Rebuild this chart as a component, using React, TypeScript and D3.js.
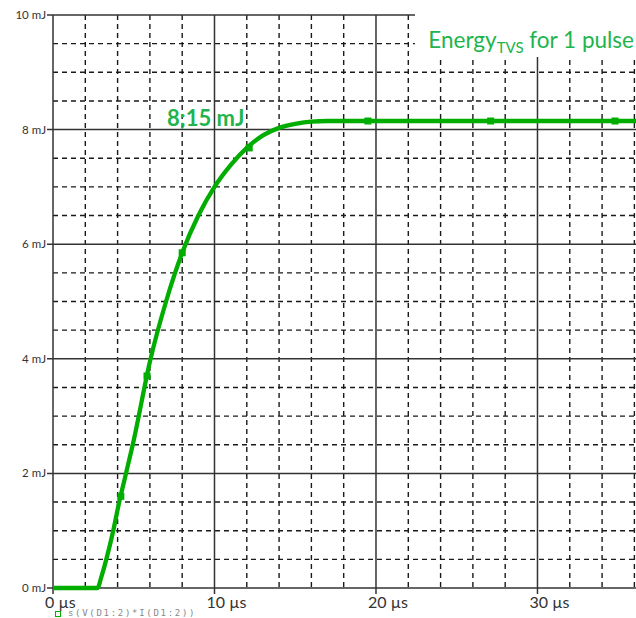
import React from "react";
import * as d3 from "d3";

const timeUs = [0, 2.75, 3.0, 3.3, 3.73, 4.1, 4.52, 5.0, 6.0, 7.0, 8.0, 9.0, 10.0, 11.0, 12.0, 13.0, 14.0, 15.0, 16.0, 17.0, 36.1];
const energyMJ = [0, 0, 0.2, 0.5, 1.0, 1.5, 2.0, 2.58, 3.95, 5.0, 5.85, 6.5, 7.0, 7.38, 7.68, 7.9, 8.03, 8.1, 8.14, 8.15, 8.15];
const markerTimes = [4.2, 5.82, 8.0, 12.15, 19.5, 27.1, 34.8];
const markerEnergy = [1.6, 3.7, 5.85, 7.68, 8.15, 8.15, 8.15];
const xMajorTicks = [0, 10, 20, 30];
const xMinorTicks = [2, 4, 6, 8, 12, 14, 16, 18, 22, 24, 26, 28, 32, 34, 36];
const yMajorTicks = [0, 2, 4, 6, 8, 10];
const yMinorTicks = [0.5, 1, 1.5, 2.5, 3, 3.5, 4.5, 5, 5.5, 6.5, 7, 7.5, 8.5, 9, 9.5];
const xTickLabel = (v: number) => `${v} µs`;
const yTickLabel = (v: number) => `${v} mJ`;
const titleMain = "Energy";
const titleSub = "TVS";
const titleRest = " for 1 pulse";
const annotation = "8;15 mJ";
const legendLabel = "s(V(D1:2)*I(D1:2))";

const W = 636;
const H = 618;

export default function App() {
  const x = d3.scaleLinear().domain([0, 36.1]).range([53, 636]);
  const y = d3.scaleLinear().domain([0, 10]).range([588, 15]);
  const data = timeUs.map((t, i) => [t, energyMJ[i]] as [number, number]);
  const line = d3
    .line<[number, number]>()
    .x((d) => x(d[0]))
    .y((d) => y(d[1]))
    .curve(d3.curveMonotoneX);
  const curveColor = "#00ad00";
  const textGreen = "#22b44c";
  const gridColor = "#1a1a1a";
  const axisColor = "#333";

  return (
    <svg
      width={W}
      height={H}
      style={{ position: "absolute", left: 0, top: 0, background: "#fff" }}
    >
      <rect x={0} y={0} width={W} height={H} fill="#fff" />
      {xMinorTicks.map((t) => (
        <line
          key={"xm" + t}
          x1={x(t)}
          x2={x(t)}
          y1={y(10)}
          y2={y(0)}
          stroke={gridColor}
          strokeWidth={1.4}
          strokeDasharray="5,4"
        />
      ))}
      {yMinorTicks.map((v) => (
        <line
          key={"ym" + v}
          x1={x(0)}
          x2={W}
          y1={y(v)}
          y2={y(v)}
          stroke={gridColor}
          strokeWidth={1.4}
          strokeDasharray="5,4"
        />
      ))}
      {xMajorTicks.map((t) => (
        <line
          key={"xM" + t}
          x1={x(t)}
          x2={x(t)}
          y1={y(10)}
          y2={y(0) + 6}
          stroke={axisColor}
          strokeWidth={1.5}
        />
      ))}
      {yMajorTicks.map((v) => (
        <line
          key={"yM" + v}
          x1={x(0) - 6}
          x2={W}
          y1={y(v)}
          y2={y(v)}
          stroke={axisColor}
          strokeWidth={1.5}
        />
      ))}
      <rect x={415} y={0} width={W - 415} height={57} fill="#fff" />
      {yMajorTicks.map((v) => (
        <text
          key={"yl" + v}
          x={46}
          y={y(v)}
          dy="0.35em"
          textAnchor="end"
          fontFamily="Lato, sans-serif"
          fontSize={11.5}
          fill="#333"
        >
          {yTickLabel(v)}
        </text>
      ))}
      {xMajorTicks.map((t) => (
        <text
          key={"xl" + t}
          x={x(t) - 8}
          y={608}
          textAnchor="start"
          fontFamily="Lato, sans-serif"
          fontSize={16}
          fill="#333"
        >
          {xTickLabel(t)}
        </text>
      ))}
      <path d={line(data) || ""} fill="none" stroke={curveColor} strokeWidth={4.3} strokeLinejoin="round" />
      {markerTimes.map((t, i) => (
        <rect
          key={"mk" + i}
          x={x(t) - 3.5}
          y={y(markerEnergy[i]) - 3.5}
          width={7}
          height={7}
          fill={curveColor}
        />
      ))}
      <text
        x={634}
        y={48}
        textAnchor="end"
        fontFamily="Lato, sans-serif"
        fontSize={22.5}
        fill={textGreen}
      >
        {titleMain}
        <tspan fontSize={15} dy={5}>
          {titleSub}
        </tspan>
        <tspan dy={-5}>{titleRest}</tspan>
      </text>
      <text
        x={167}
        y={126}
        fontFamily="Lato, sans-serif"
        fontWeight="bold"
        fontSize={22}
        fill={textGreen}
      >
        {annotation}
      </text>
      <rect x={55.5} y={611.5} width={5} height={5} fill="#fff" stroke={curveColor} strokeWidth={1} />
      <text
        x={68}
        y={616}
        fontFamily="'DejaVu Sans Mono', monospace"
        fontSize={9}
        letterSpacing={1.7}
        fill="#888"
      >
        {legendLabel}
      </text>
    </svg>
  );
}
